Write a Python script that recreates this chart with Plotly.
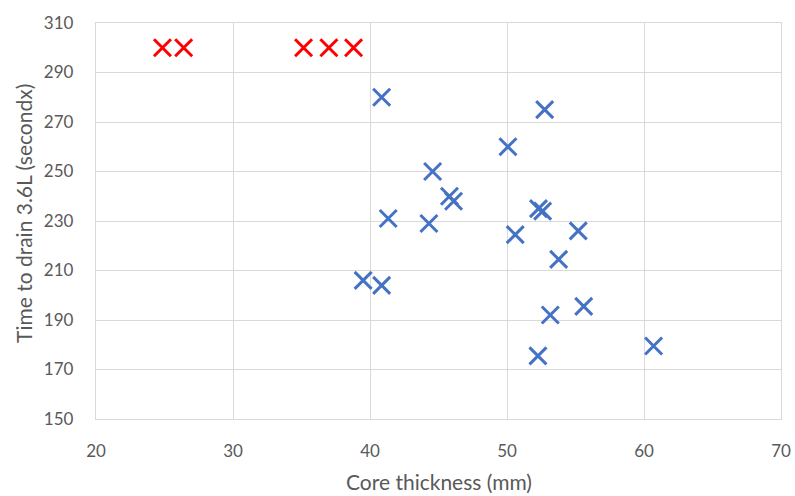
import plotly.graph_objects as go

# Samples with measured drain time
core_mm = [40.85, 52.75, 50.07, 44.57, 45.8, 46.1, 41.33, 44.3, 52.3, 52.6,
           50.6, 55.2, 53.77, 39.5, 40.85, 55.6, 53.16, 52.26, 60.7]
drain_s = [280, 275, 260, 250, 240, 238, 231, 229, 235, 234,
           224.5, 226, 214.5, 206, 204, 195.5, 192, 175.5, 179.5]

# Samples that did not drain (capped at 300 s)
capped_mm = [24.85, 26.4, 35.15, 37.0, 38.8]
capped_s = [300, 300, 300, 300, 300]

x_ticks = [20, 30, 40, 50, 60, 70]
y_ticks = [150, 170, 190, 210, 230, 250, 270, 290, 310]

fig = go.Figure()
fig.add_trace(go.Scatter(
    x=core_mm, y=drain_s, mode="markers",
    marker=dict(symbol="x-thin", size=17, line=dict(width=3, color="#4472C4")),
))
fig.add_trace(go.Scatter(
    x=capped_mm, y=capped_s, mode="markers",
    marker=dict(symbol="x-thin", size=17, line=dict(width=3, color="#FF0000")),
))

grid = "#D9D9D9"
text_col = "#595959"
font = "Lato, 'Open Sans', sans-serif"
fig.update_layout(
    width=795, height=496,
    margin=dict(l=96, r=14, t=23, b=77),
    plot_bgcolor="white", paper_bgcolor="white",
    showlegend=False,
    font=dict(family=font, size=17, color=text_col),
    xaxis=dict(
        range=[20, 70], tickvals=x_ticks, showgrid=True, gridcolor=grid, gridwidth=1.3,
        showline=True, linecolor=grid, linewidth=1.3, mirror=True, zeroline=False,
        ticks="", ticklen=0, ticklabelstandoff=16, automargin=False,
    ),
    yaxis=dict(
        range=[150, 310], tickvals=y_ticks, showgrid=True, gridcolor=grid, gridwidth=1.3,
        showline=True, linecolor=grid, linewidth=1.3, mirror=True, zeroline=False,
        ticks="", ticklen=0, ticklabelstandoff=18, automargin=False,
    ),
    annotations=[
        dict(text="Core thickness (mm)", xref="paper", yref="paper", x=0.5, y=-0.157,
             xanchor="center", yanchor="middle", showarrow=False,
             font=dict(size=21, color=text_col)),
        dict(text="Time to drain 3.6L (secondx)", xref="paper", yref="paper",
             x=-0.105, y=0.518, textangle=-90, xanchor="center", yanchor="middle",
             showarrow=False, font=dict(size=21, color=text_col)),
    ],
)

fig.write_html("out.html")
